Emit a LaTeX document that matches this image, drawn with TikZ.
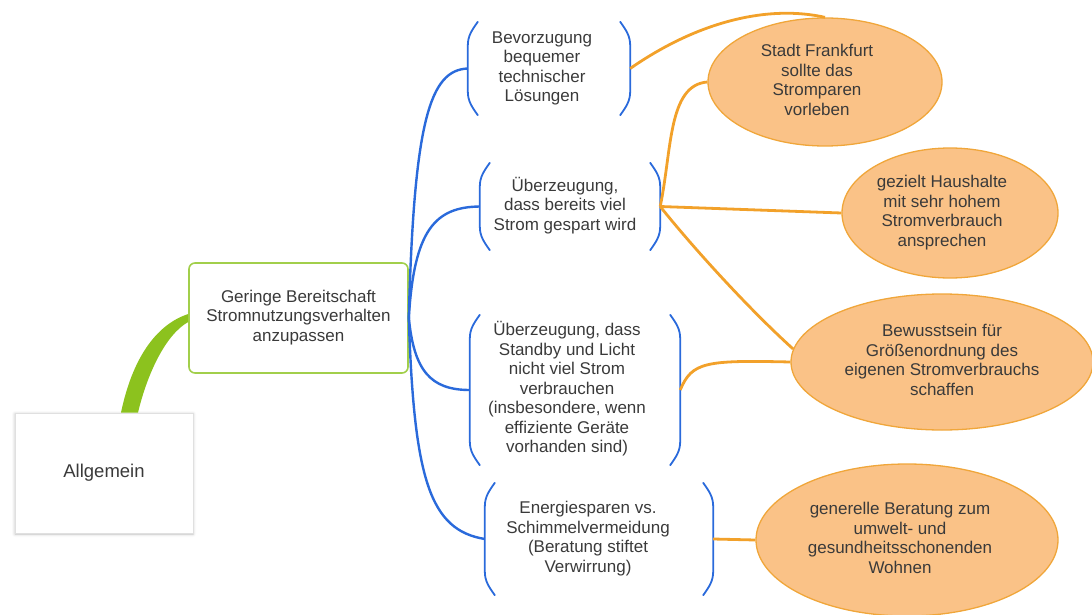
\documentclass[tikz,border=0pt]{standalone}
\usepackage{fontspec}
\setmainfont{Liberation Sans}
\usetikzlibrary{shapes.geometric,shadows.blur}
\definecolor{txt}{HTML}{3A3A3A}
\definecolor{gbord}{HTML}{A2CF4B}
\definecolor{gconn}{HTML}{8CC21E}
\definecolor{bline}{HTML}{2A6ADB}
\definecolor{oline}{HTML}{F2A12A}
\definecolor{ofill}{HTML}{FAC287}
\definecolor{obord}{HTML}{F0A63A}
\newcommand\mlines[1]{\begin{tabular}{@{}c@{}}#1\end{tabular}}
\newcommand\parens[1]{%
\draw[paren] ([xshift=10pt]#1.north west) to[out=235,in=90] ([yshift=-24pt]#1.north west) -- ([yshift=24pt]#1.south west) to[out=-90,in=125] ([xshift=10pt]#1.south west);
\draw[paren] ([xshift=-10pt]#1.north east) to[out=-55,in=90] ([yshift=-24pt]#1.north east) -- ([yshift=24pt]#1.south east) to[out=-90,in=55] ([xshift=-10pt]#1.south east);}
\begin{document}
\begin{tikzpicture}[x=1pt,y=-1pt,font=\fontsize{17}{19.5}\selectfont,text=txt,
  rootbox/.style={draw=black!12, fill=white, line width=0.8pt, minimum width=178pt, minimum height=120pt, inner sep=0pt,
     blur shadow={shadow xshift=0pt, shadow yshift=-1pt, shadow blur radius=3pt, shadow opacity=25}},
  greenbox/.style={draw=gbord, line width=1.6pt, rounded corners=6pt, fill=white, minimum width=219pt, minimum height=110pt, inner sep=0pt},
  brk/.style={inner sep=0pt},
  bleaf/.style={ellipse, draw=obord, line width=1.3pt, fill=ofill, inner sep=0pt},
  bconn/.style={draw=bline, line width=2.4pt},
  oconn/.style={draw=oline, line width=2.8pt},
  paren/.style={draw=bline, line width=1.8pt, line cap=round}]
\useasboundingbox (0,0) rectangle (1092,615);
% nodes
\node[rootbox, font=\fontsize{18.5}{22}\selectfont] (ag) at (104,473) {Allgemein};
\node[greenbox] (gn) at (298.5,318) {\mlines{Geringe Bereitschaft\\Stromnutzungsverhalten\\anzupassen}};
\node[brk, minimum width=162pt, minimum height=93pt] (b1) at (549,68.5) {\mlines{Bevorzugung\\bequemer\\technischer\\Lösungen}\kern14pt};
\node[brk, minimum width=180pt, minimum height=87pt] (b2) at (570,206.5) {\mlines{Überzeugung,\\dass bereits viel\\Strom gespart wird}\kern10pt};
\node[brk, minimum width=210pt, minimum height=150pt] (b3) at (575,390) {\mlines{Überzeugung, dass\\Standby und Licht\\nicht viel Strom\\verbrauchen\\(insbesondere, wenn\\effiziente Geräte\\vorhanden sind)}\kern16pt};
\node[brk, minimum width=228pt, minimum height=112pt] (b4) at (599,539) {\mlines{Energiesparen vs.\\Schimmelvermeidung\\(Beratung stiftet\\Verwirrung)}\kern22pt};
\parens{b1}\parens{b2}\parens{b3}\parens{b4}
\node[bleaf, minimum width=234pt, minimum height=128pt] (s1) at (825,82) {\mlines{Stadt Frankfurt\\sollte das\\Stromparen\\vorleben}\kern16pt};
\node[bleaf, minimum width=216pt, minimum height=130pt] (s2) at (950,213) {\mlines{gezielt Haushalte\\mit sehr hohem\\Stromverbrauch\\ansprechen}\kern16pt};
\node[bleaf, minimum width=302pt, minimum height=136pt] (s3) at (942,362) {\mlines{Bewusstsein für\\Größenordnung des\\eigenen Stromverbrauchs\\schaffen}};
\node[bleaf, minimum width=302pt, minimum height=152pt] (s4) at (907,540) {\mlines{generelle Beratung zum\\umwelt- und\\gesundheitsschonenden\\Wohnen}\kern14pt};
% green connector
\fill[gconn] ([xshift=17pt]ag.north) .. controls (132,360) and (155,325) .. ([yshift=4pt]gn.west)
  -- ([yshift=-4pt]gn.west) .. controls (165,335) and (147,375) .. ([xshift=34pt]ag.north) -- cycle;
% blue connectors
\draw[bconn] (gn.east) .. controls (414,120) and (430,70) .. (b1.west);
\draw[bconn] (gn.east) .. controls (414,230) and (435,207) .. (b2.west);
\draw[bconn] (gn.east) .. controls (414,370) and (430,390) .. (b3.west);
\draw[bconn] (gn.east) .. controls (414,480) and (430,530) .. (b4.west);
% orange connectors
\draw[oconn] (b1.east) .. controls (700,20) and (770,5) .. (s1.north);
\draw[oconn] (b2.east) .. controls (672,150) and (668,85) .. (s1.west);
\draw[oconn] (b2.east) -- (s2.west);
\draw[oconn] (b2.east) .. controls (695,250) and (750,310) .. (s3.175);
\draw[oconn] (b3.east) .. controls (692,362) and (705,360) .. (s3.west);
\draw[oconn] (b4.east) -- (s4.west);
\end{tikzpicture}
\end{document}
